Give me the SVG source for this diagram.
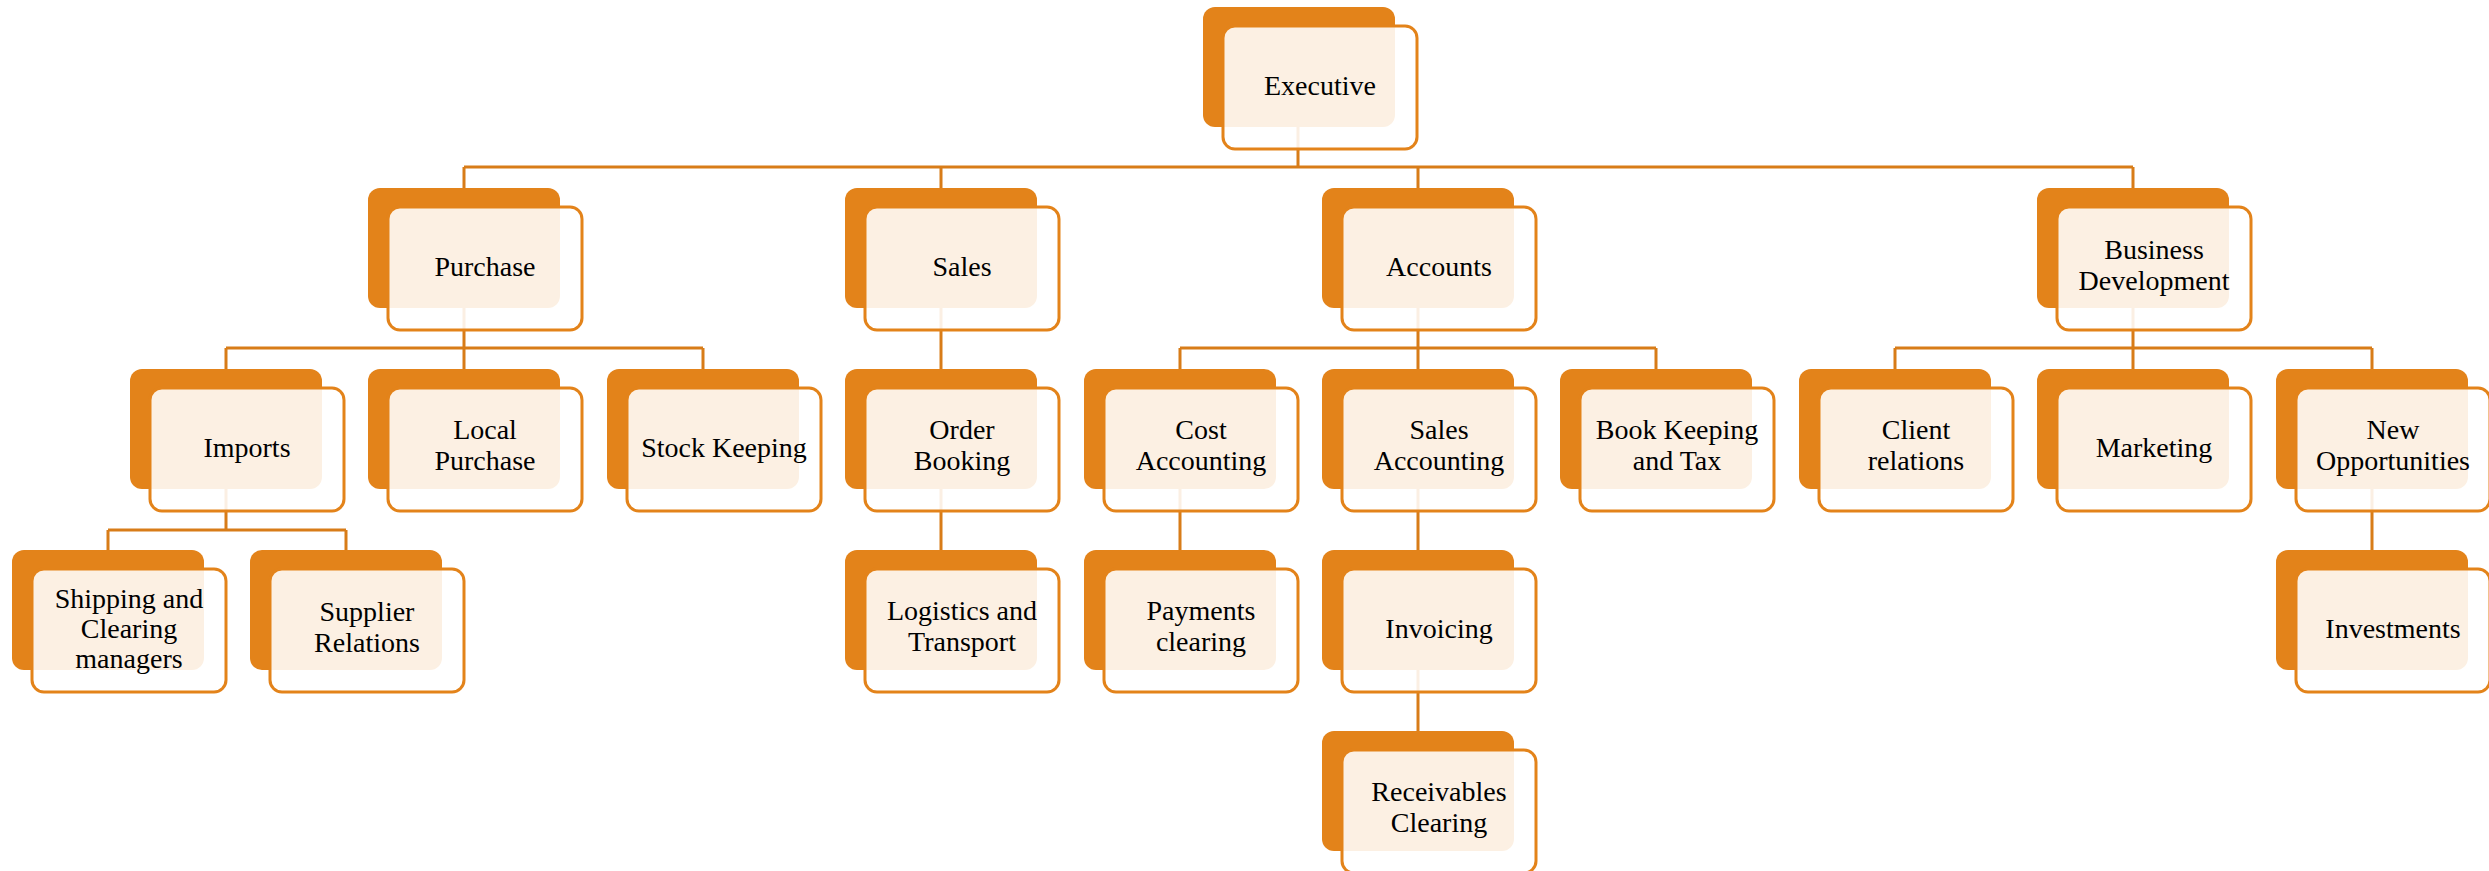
<svg xmlns="http://www.w3.org/2000/svg" width="2489" height="871" viewBox="0 0 2489 871">
<style>
.bk{fill:#E3831A}
.fr{fill:#FFFFFF;fill-opacity:0.88;stroke:#E3831A;stroke-width:3}
.t{font-family:"Liberation Serif","Times New Roman",serif;font-size:28px;fill:#000;text-anchor:middle}
.c{fill:none;stroke:#D87C18;stroke-width:3}
</style>
<defs>
<g id="box">
<rect class="bk" x="0" y="0" width="192" height="120" rx="12"/>
<rect class="fr" x="20" y="19" width="194" height="123" rx="12"/>
</g>
</defs>
<g id="connectors">
<path class="c" d="M1298,127V167M464,167H2133M464,167V188M941,167V188M1418,167V188M2133,167V188"/>
<path class="c" d="M464,308V348M226,348H703M226,348V369M464,348V369M703,348V369"/>
<path class="c" d="M941,308V369"/>
<path class="c" d="M1418,308V348M1180,348H1656M1180,348V369M1418,348V369M1656,348V369"/>
<path class="c" d="M2133,308V348M1895,348H2372M1895,348V369M2133,348V369M2372,348V369"/>
<path class="c" d="M226,489V530M108,530H346M108,530V550M346,530V550"/>
<path class="c" d="M941,489V550M1180,489V550M1418,489V550M2372,489V550"/>
<path class="c" d="M1418,670V731"/>
</g>
<g id="n-executive" transform="translate(1203,7)"><use href="#box"/><text class="t" x="117" y="88">Executive</text></g>
<g id="n-purchase" transform="translate(368,188)"><use href="#box"/><text class="t" x="117" y="88">Purchase</text></g>
<g id="n-sales" transform="translate(845,188)"><use href="#box"/><text class="t" x="117" y="88">Sales</text></g>
<g id="n-accounts" transform="translate(1322,188)"><use href="#box"/><text class="t" x="117" y="88">Accounts</text></g>
<g id="n-bizdev" transform="translate(2037,188)"><use href="#box"/><text class="t"><tspan x="117" y="71">Business</tspan><tspan x="117" y="102">Development</tspan></text></g>
<g id="n-imports" transform="translate(130,369)"><use href="#box"/><text class="t" x="117" y="88">Imports</text></g>
<g id="n-localpurchase" transform="translate(368,369)"><use href="#box"/><text class="t"><tspan x="117" y="70">Local</tspan><tspan x="117" y="101">Purchase</tspan></text></g>
<g id="n-stock" transform="translate(607,369)"><use href="#box"/><text class="t" x="117" y="88">Stock Keeping</text></g>
<g id="n-orderbooking" transform="translate(845,369)"><use href="#box"/><text class="t"><tspan x="117" y="70">Order</tspan><tspan x="117" y="101">Booking</tspan></text></g>
<g id="n-costacc" transform="translate(1084,369)"><use href="#box"/><text class="t"><tspan x="117" y="70">Cost</tspan><tspan x="117" y="101">Accounting</tspan></text></g>
<g id="n-salesacc" transform="translate(1322,369)"><use href="#box"/><text class="t"><tspan x="117" y="70">Sales</tspan><tspan x="117" y="101">Accounting</tspan></text></g>
<g id="n-bookkeeping" transform="translate(1560,369)"><use href="#box"/><text class="t"><tspan x="117" y="70">Book Keeping</tspan><tspan x="117" y="101">and Tax</tspan></text></g>
<g id="n-client" transform="translate(1799,369)"><use href="#box"/><text class="t"><tspan x="117" y="70">Client</tspan><tspan x="117" y="101">relations</tspan></text></g>
<g id="n-marketing" transform="translate(2037,369)"><use href="#box"/><text class="t" x="117" y="88">Marketing</text></g>
<g id="n-newopp" transform="translate(2276,369)"><use href="#box"/><text class="t"><tspan x="117" y="70">New</tspan><tspan x="117" y="101">Opportunities</tspan></text></g>
<g id="n-shipping" transform="translate(12,550)"><use href="#box"/><text class="t"><tspan x="117" y="58">Shipping and</tspan><tspan x="117" y="88">Clearing</tspan><tspan x="117" y="118">managers</tspan></text></g>
<g id="n-supplier" transform="translate(250,550)"><use href="#box"/><text class="t"><tspan x="117" y="71">Supplier</tspan><tspan x="117" y="102">Relations</tspan></text></g>
<g id="n-logistics" transform="translate(845,550)"><use href="#box"/><text class="t"><tspan x="117" y="70">Logistics and</tspan><tspan x="117" y="101">Transport</tspan></text></g>
<g id="n-payments" transform="translate(1084,550)"><use href="#box"/><text class="t"><tspan x="117" y="70">Payments</tspan><tspan x="117" y="101">clearing</tspan></text></g>
<g id="n-invoicing" transform="translate(1322,550)"><use href="#box"/><text class="t" x="117" y="88">Invoicing</text></g>
<g id="n-investments" transform="translate(2276,550)"><use href="#box"/><text class="t" x="117" y="88">Investments</text></g>
<g id="n-receivables" transform="translate(1322,731)"><use href="#box"/><text class="t"><tspan x="117" y="70">Receivables</tspan><tspan x="117" y="101">Clearing</tspan></text></g>
</svg>
